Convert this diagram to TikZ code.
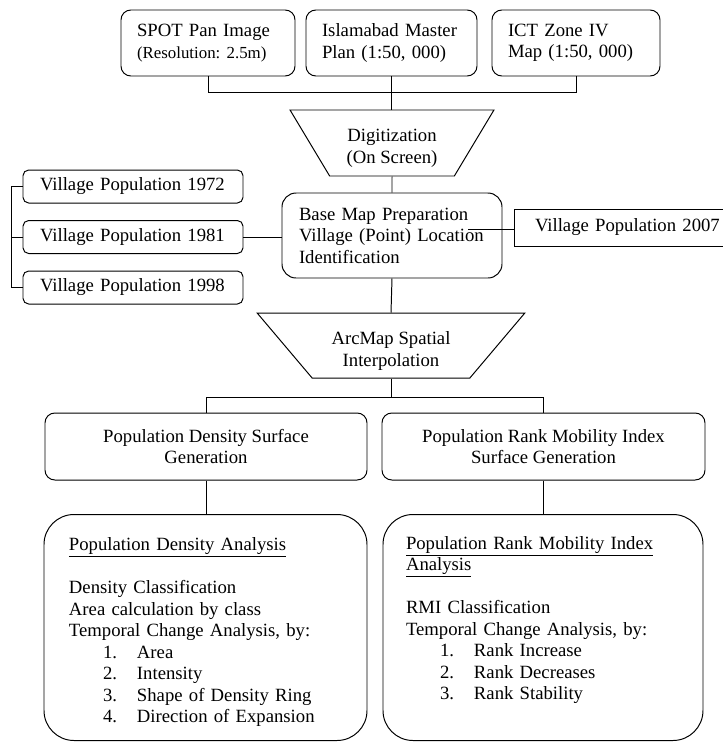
\documentclass[tikz,border=0pt]{standalone}
\usepackage{fontspec}
\setmainfont{Liberation Serif}
\usetikzlibrary{shapes.geometric}

\newcommand{\listrow}[2]{\hspace*{0.85cm}\makebox[0.85cm][l]{#1}#2}
\newcommand{\toppad}[1]{\rule{0pt}{#1}}

\begin{document}
\begin{tikzpicture}[
    font=\fontsize{13.3}{15.3}\selectfont\frenchspacing,
    srcbox/.style={
        draw,
        rounded corners=7pt,
        minimum height=1.65cm,
        align=left,
        inner xsep=0.4cm,
        inner ysep=0pt
    },
    popbox/.style={
        draw,
        rounded corners=4pt,
        minimum height=0.825cm,
        text width=4.65cm,
        align=left,
        inner xsep=0.425cm,
        inner ysep=0pt
    },
    funnel/.style={
        draw,
        trapezium,
        shape border rotate=180,
        trapezium stretches=true,
        align=center,
        inner sep=0pt
    },
    surfbox/.style={
        draw,
        rounded corners=7pt,
        minimum height=1.675cm,
        align=center,
        inner sep=0pt
    },
    analysisbox/.style={
        draw,
        rounded corners=0.75cm,
        minimum height=5.65cm,
        align=left,
        inner ysep=0pt
    },
    link/.style={
        line width=0.7pt
    },
    every node/.append style={line width=0.7pt}
]
\useasboundingbox (0,0) rectangle (18.075,-18.575);

% Nodes
\node[srcbox, text width=3.55cm] (spot) at (5.2,-1.075)
    {SPOT Pan Image\\{\fontsize{12}{15.3}\selectfont (Resolution: 2.5m)}};
\node[srcbox, text width=3.475cm] (master) at (9.7875,-1.075)
    {Islamabad Master\\Plan (1:50, 000)};
\node[srcbox, text width=3.4cm] (ict) at (14.4,-1.075)
    {ICT Zone IV\\Map (1:50, 000)};

\node[funnel, trapezium angle=59, minimum width=5.1cm, minimum height=1.65cm] (digit) at (9.8,-3.575)
    {\toppad{16pt}Digitization\\(On Screen)};

\node[draw, rounded corners=10pt, text width=4.65cm, align=left, inner xsep=0.425cm,
    minimum height=2.125cm, inner ysep=0pt] (basemap) at (9.8,-5.8875)
    {Base Map Preparation\\Village (Point) Location\\Identification};

\node[popbox] (vp1972) at (3.325,-4.6625) {Village Population 1972};
\node[popbox] (vp1981) at (3.325,-5.925) {Village Population 1981};
\node[popbox] (vp1998) at (3.325,-7.1875) {Village Population 1998};
\node[draw, minimum height=0.925cm, text width=5cm, align=left, inner xsep=0.525cm,
    inner ysep=0pt] (vp2007) at (15.875,-5.6875) {Village Population 2007};

\node[funnel, trapezium angle=50, minimum width=6.7cm, minimum height=1.625cm] (arcmap) at (9.775,-8.6375)
    {\toppad{17pt}ArcMap Spatial\\Interpolation};

\node[surfbox, minimum width=8.05cm] (densurf) at (5.15,-11.1625)
    {Population Density Surface\\Generation};
\node[surfbox, minimum width=8.075cm] (rmisurf) at (13.5875,-11.1625)
    {Population Rank Mobility Index\\Surface Generation};

\node[analysisbox, text width=6.825cm, inner xsep=0.625cm] (denanal) at (5.1375,-15.6875)
    {\toppad{16pt}\underline{Population Density Analysis}\\[15.3pt]
     Density Classification\\
     Area calculation by class\\
     Temporal Change Analysis, by:\\
     \listrow{1.}{Area}\\
     \listrow{2.}{Intensity}\\
     \listrow{3.}{Shape of Density Ring}\\
     \listrow{4.}{Direction of Expansion}};
\node[analysisbox, text width=6.85cm, inner xsep=0.575cm] (rmianal) at (13.575,-15.6875)
    {\toppad{11pt}\underline{Population Rank Mobility Index}\\
     \underline{Analysis}\\[15.3pt]
     RMI Classification\\
     Temporal Change Analysis, by:\\
     \listrow{1.}{Rank Increase}\\
     \listrow{2.}{Rank Decreases}\\
     \listrow{3.}{Rank Stability}\\
     \mbox{}};

\coordinate (bmjoin) at (11.7,-5.725);

% Links
\draw[link] (spot.south) -- ++(0,-0.4) -| (ict.south);
\draw[link] (master.south) -- (master.south |- digit.north);
\draw[link] (digit.south) -- (basemap.north);
\draw[link] (vp1981.east) -- (vp1981.east -| basemap.west);
\draw[link] (vp1972.west) -- ++(-0.275,0) |- (vp1998.west);
\draw[link] (vp1981.west) -- ++(-0.275,0);
\draw[link] (bmjoin) -- (bmjoin -| vp2007.west);
\draw[link] (basemap.south) -- (arcmap.north);
\draw[link] (arcmap.south) -- ++(0,-0.475) coordinate (split);
\draw[link] (densurf.north) |- (split) -| (rmisurf.north);
\draw[link] (densurf.south) -- (densurf.south |- denanal.north);
\draw[link] (rmisurf.south) -- (rmisurf.south |- rmianal.north);

\end{tikzpicture}
\end{document}
